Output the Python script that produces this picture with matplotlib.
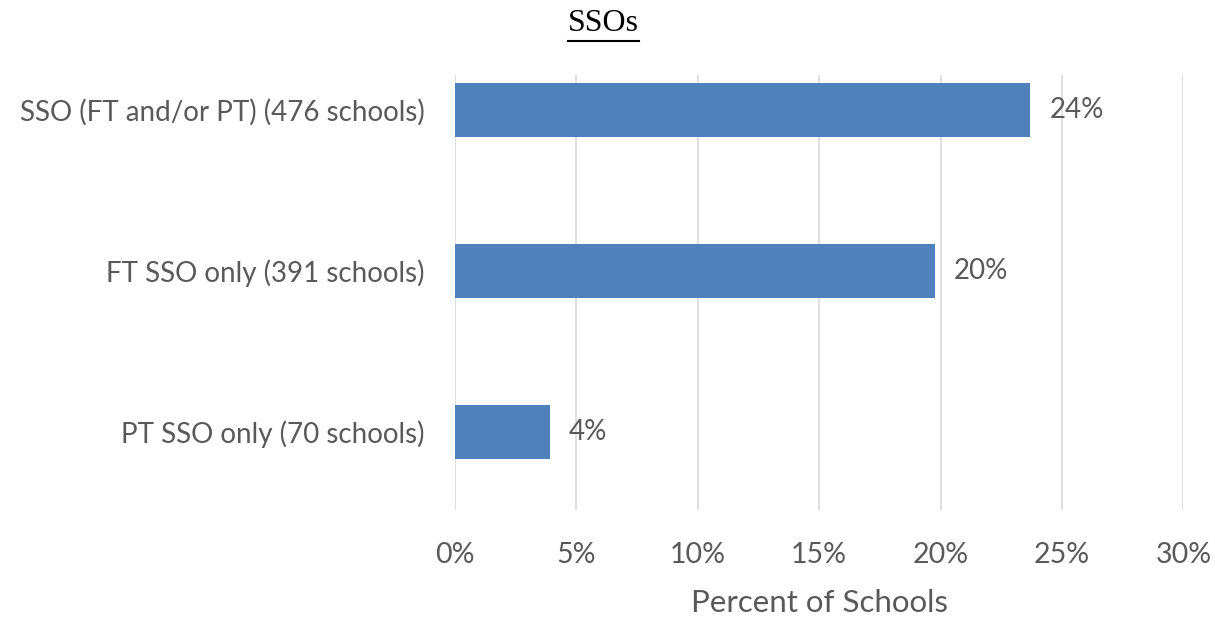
import matplotlib
matplotlib.use("Agg")
from matplotlib import pyplot as plt
from matplotlib.lines import Line2D

# data
categories = ["SSO (FT and/or PT) (476 schools)",
              "FT SSO only (391 schools)",
              "PT SSO only (70 schools)"]
values = [23.7, 19.75, 3.9]
value_labels = ["24%", "20%", "4%"]
ticks = [0, 5, 10, 15, 20, 25, 30]

grey = "#595959"
plt.rcParams["font.family"] = ["Lato", "DejaVu Sans"]

fig = plt.figure(figsize=(12.15, 6.21), dpi=100)
ax = fig.add_axes([0.3745, 0.179, 0.5995, 0.700])

pos = list(range(len(categories)))
ax.barh(pos, values, height=0.34, color="#4F81BD", zorder=3)

for p, v, lab in zip(pos, values, value_labels):
    ax.text(v + 0.8, p, lab, va="center", ha="left", fontsize=20, color=grey)

ax.set_yticks(pos)
ax.set_yticklabels(categories, fontsize=20, color=grey)
ax.set_ylim(2.484, -0.217)
ax.set_xlim(0, 30)
ax.set_xticks(ticks)
ax.set_xticklabels([f"{t}%" for t in ticks], fontsize=20.5, color=grey)
ax.tick_params(axis="y", length=0, pad=22)
ax.tick_params(axis="x", length=0, pad=23)
ax.grid(axis="x", color="#D9D9D9", linewidth=1.2, zorder=0)
for s in ax.spines.values():
    s.set_visible(False)
ax.set_xlabel("Percent of Schools", fontsize=22.5, color=grey, labelpad=15)

title = fig.text(0.497, 0.962, "SSOs", ha="center", va="center",
                 fontsize=23, family="Liberation Serif", color="black")
fig.canvas.draw()
bb = title.get_window_extent().transformed(fig.transFigure.inverted())
fig.add_artist(Line2D([bb.x0, bb.x1], [bb.y0 - 0.004, bb.y0 - 0.004],
                      color="black", linewidth=1.5, transform=fig.transFigure))

plt.savefig("out.png", dpi=100)
